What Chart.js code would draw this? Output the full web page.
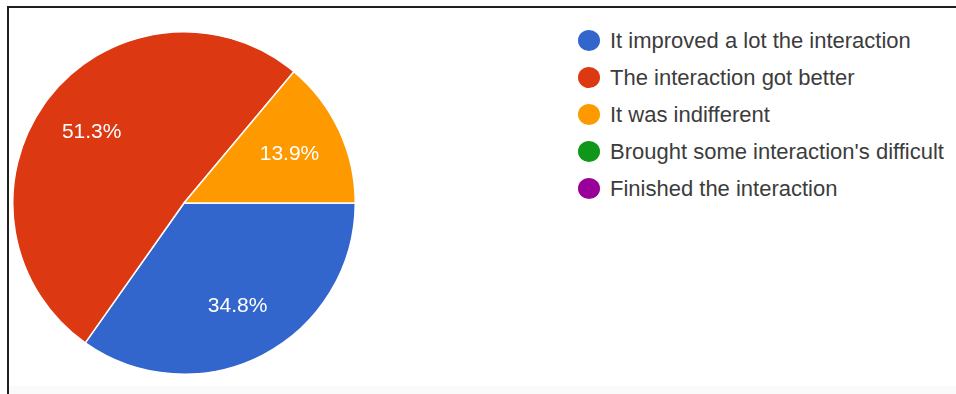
<!DOCTYPE html>
<html>
<head>
<meta charset="utf-8">
<script src="https://cdn.jsdelivr.net/npm/chart.js@4"></script>
<style>
  html, body { margin: 0; padding: 0; background: #fff; }
  body { width: 956px; height: 394px; position: relative; overflow: hidden; font-family: "Liberation Sans", Arial, sans-serif; }
  #frameTop { position: absolute; left: 7px; top: 6px; width: 949px; height: 2px; background: #1e1e1e; }
  #frameLeft { position: absolute; left: 7px; top: 6px; width: 2px; height: 388px; background: #1e1e1e; }
  #footer { position: absolute; left: 9px; top: 386px; width: 947px; height: 8px; background: #fafafa; }
  #pieBox { position: absolute; left: 12px; top: 31px; width: 344px; height: 344px; }
  #legend { position: absolute; left: 578px; top: 22px; margin: 0; padding: 0; list-style: none; }
  #legend li { height: 37px; display: flex; align-items: center; font-size: 22px; color: #3c3c3c; white-space: nowrap; }
  #legend span.dot { width: 22px; height: 21px; border-radius: 50%; margin-right: 10px; flex: none; }
</style>
</head>
<body>
<div id="frameTop"></div>
<div id="frameLeft"></div>
<div id="footer"></div>
<div id="pieBox"><canvas id="pieChart" width="344" height="344"></canvas></div>
<ul id="legend"></ul>
<script>
const answers = [
    "It improved a lot the interaction",
    "The interaction got better",
    "It was indifferent",
    "Brought some interaction's difficult",
    "Finished the interaction"
];
const responses = [40, 59, 16, 0, 0];
const sliceColors = ["#3366cc", "#dc3912", "#ff9900", "#109618", "#990099"];

const total = responses.reduce((a, b) => a + b, 0);

// legend on the right, one row per answer
const legend = document.getElementById("legend");
answers.forEach((label, i) => {
    const li = document.createElement("li");
    li.innerHTML = `<span class="dot" style="background:${sliceColors[i]}"></span>${label}`;
    legend.appendChild(li);
});

// white percentage text inside each slice
const sliceLabels = {
    id: "sliceLabels",
    afterDatasetsDraw(chart) {
        const ctx = chart.ctx;
        const meta = chart.getDatasetMeta(0);
        ctx.save();
        ctx.fillStyle = "#ffffff";
        ctx.font = '21px "Liberation Sans", Arial, sans-serif';
        ctx.textAlign = "center";
        ctx.textBaseline = "middle";
        meta.data.forEach((arc, i) => {
            const v = responses[i];
            if (!v) return;
            const p = arc.getProps(["x", "y", "startAngle", "endAngle", "outerRadius"], true);
            const mid = (p.startAngle + p.endAngle) / 2;
            const r = p.outerRadius * 0.68;
            ctx.fillText((v / total * 100).toFixed(1) + "%", p.x + Math.cos(mid) * r, p.y + Math.sin(mid) * r);
        });
        ctx.restore();
    }
};

new Chart(document.getElementById("pieChart"), {
    type: "pie",
    data: {
        labels: answers,
        datasets: [{
            data: responses,
            backgroundColor: sliceColors,
            borderColor: "#ffffff",
            borderWidth: 1.5,
            hoverOffset: 0
        }]
    },
    options: {
        responsive: false,
        animation: false,
        events: [],
        rotation: 90,
        layout: { padding: 0 },
        plugins: {
            legend: { display: false },
            tooltip: { enabled: false }
        }
    },
    plugins: [sliceLabels]
});
</script>
</body>
</html>
